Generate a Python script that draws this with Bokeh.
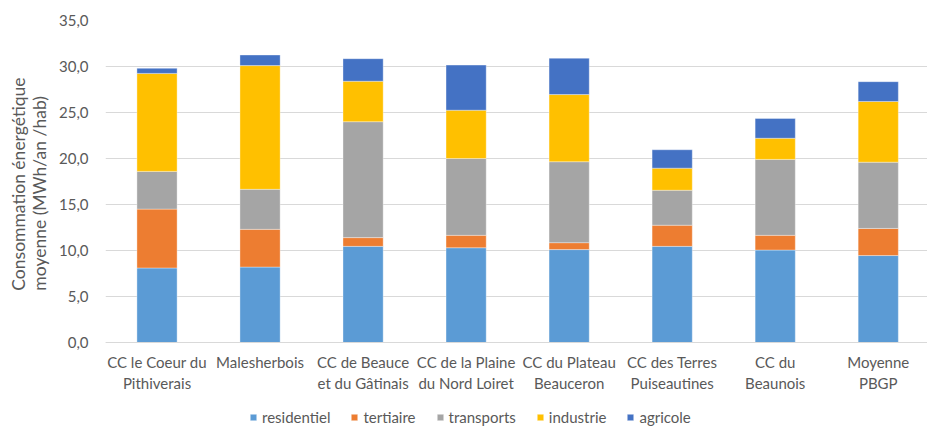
from bokeh.plotting import figure
from bokeh.models import ColumnDataSource, Range1d, FixedTicker, Legend, LegendItem, Title
from bokeh.embed import file_html
from bokeh.resources import INLINE

categories = ["CC le Coeur du\nPithiverais", "Malesherbois", "CC de Beauce\net du Gâtinais",
              "CC de la Plaine\ndu Nord Loiret", "CC du Plateau\nBeauceron", "CC des Terres\nPuiseautines",
              "CC du\nBeaunois", "Moyenne\nPBGP"]
series = ["residentiel", "tertiaire", "transports", "industrie", "agricole"]
residentiel = [8.1, 8.2, 10.45, 10.3, 10.1, 10.45, 10.05, 9.45]
tertiaire = [6.4, 4.1, 0.95, 1.35, 0.75, 2.3, 1.6, 2.95]
transports = [4.1, 4.35, 12.6, 8.35, 8.8, 3.8, 8.25, 7.2]
industrie = [10.65, 13.45, 4.4, 5.25, 7.3, 2.4, 2.3, 6.6]
agricole = [0.55, 1.15, 2.45, 4.9, 3.95, 2.0, 2.15, 2.15]
y_ticks = [0, 5, 10, 15, 20, 25, 30, 35]
y_tick_labels = ["0,0", "5,0", "10,0", "15,0", "20,0", "25,0", "30,0", "35,0"]
y_title = "Consommation énergétique\nmoyenne (MWh/an /hab)"
colors = ["#5B9BD5", "#ED7D31", "#A5A5A5", "#FFC000", "#4472C4"]

FONT = "Lato"
TXT = "#595959"

idx = list(range(len(categories)))
src = ColumnDataSource(dict(x=idx, residentiel=residentiel, tertiaire=tertiaire,
                            transports=transports, industrie=industrie, agricole=agricole))

# frame spans 20..426 px; 0 sits at 342 px, 35 at 20 px (9.2 px per unit)
p = figure(width=927, height=426, output_backend="svg", toolbar_location=None,
           x_range=Range1d(-0.5, 7.478), y_range=Range1d(-9.13, 35),
           min_border_left=101, min_border_right=0, min_border_top=20, min_border_bottom=0)
p.outline_line_color = None

rs = p.vbar_stack(series, x="x", width=0.39, source=src, color=colors,
                  line_color="white", line_alpha=0.35, line_width=1)

p.xgrid.grid_line_color = None
p.ygrid.grid_line_color = "#d9d9d9"
p.ygrid.grid_line_width = 1.2

p.xaxis.fixed_location = 0
p.xaxis.ticker = FixedTicker(ticks=idx)
p.xaxis.major_label_overrides = {i: c for i, c in zip(idx, categories)}
p.xaxis.axis_line_color = "#d9d9d9"
p.xaxis.axis_line_width = 1.2
p.xaxis.major_tick_line_color = None
p.xaxis.minor_tick_line_color = None
p.xaxis.major_label_standoff = 4
p.xaxis.major_label_text_font = FONT
p.xaxis.major_label_text_font_size = "15px"
p.xaxis.major_label_text_color = TXT

p.yaxis.ticker = FixedTicker(ticks=y_ticks)
p.yaxis.major_label_overrides = {t: l for t, l in zip(y_ticks, y_tick_labels)}
p.yaxis.axis_line_color = None
p.yaxis.major_tick_line_color = None
p.yaxis.minor_tick_line_color = None
p.yaxis.major_label_standoff = 11
p.yaxis.major_label_text_font = FONT
p.yaxis.major_label_text_font_size = "15px"
p.yaxis.major_label_text_color = TXT

p.add_layout(Title(text=y_title, align="right", offset=57, standoff=11,
                   text_font=FONT, text_font_size="17.5px", text_font_style="normal",
                   text_color=TXT), "left")

legend = Legend(items=[LegendItem(label=s, renderers=[r]) for s, r in zip(series, rs)],
                orientation="horizontal", location=(144, 0),
                glyph_width=8, glyph_height=8, label_standoff=5, spacing=20,
                padding=0, margin=0, border_line_color=None, background_fill_alpha=0,
                label_text_font=FONT, label_text_font_size="15px", label_text_color=TXT)
p.add_layout(legend, "center")

open("out.html", "w").write(file_html(p, INLINE))
